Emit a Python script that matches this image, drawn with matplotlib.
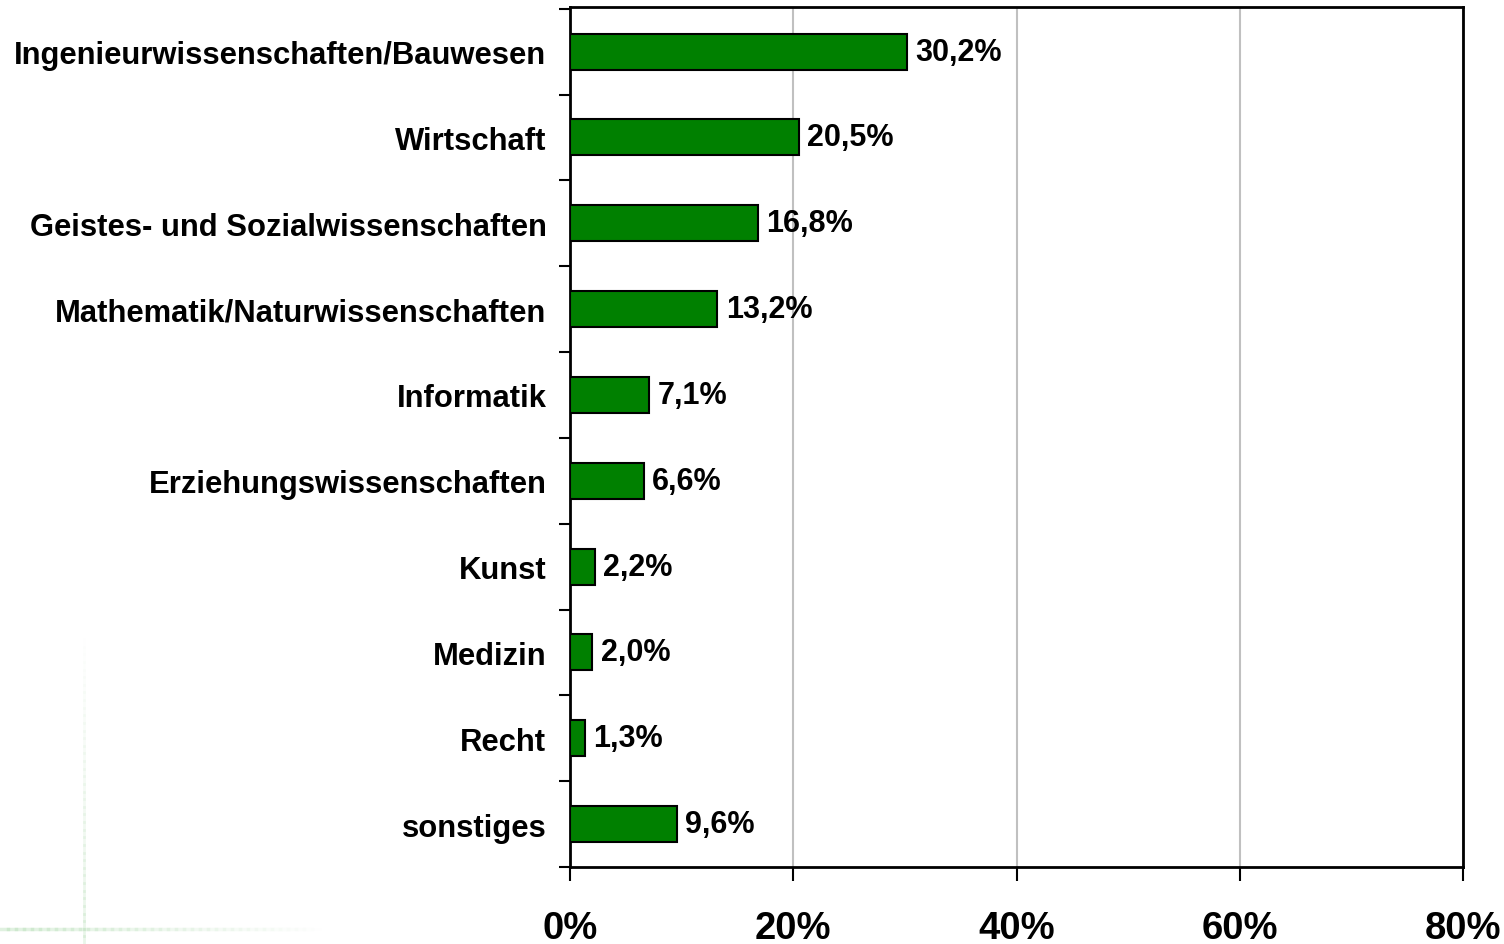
import matplotlib
matplotlib.use("Agg")
import matplotlib.pyplot as plt
from matplotlib.lines import Line2D
import numpy as np

categories = ["Ingenieurwissenschaften/Bauwesen", "Wirtschaft",
              "Geistes- und Sozialwissenschaften", "Mathematik/Naturwissenschaften",
              "Informatik", "Erziehungswissenschaften", "Kunst", "Medizin",
              "Recht", "sonstiges"]
values = [30.2, 20.5, 16.8, 13.2, 7.1, 6.6, 2.2, 2.0, 1.3, 9.6]
value_labels = ["30,2%", "20,5%", "16,8%", "13,2%", "7,1%", "6,6%",
                "2,2%", "2,0%", "1,3%", "9,6%"]
xticks = [0, 20, 40, 60, 80]
xtick_labels = ["0%", "20%", "40%", "60%", "80%"]

plt.rcParams['font.family'] = ['Liberation Sans', 'DejaVu Sans']

fig = plt.figure(figsize=(15.04, 9.45), dpi=100)
ax = fig.add_axes([570/1504, 1-868/945, (1463-570)/1504, (868-8)/945])

n = len(categories)
y = np.arange(n)
ax.barh(y, values, height=0.42, color="#008000", edgecolor="black", linewidth=1.5, zorder=3)
ax.set_ylim(n - 0.5 - 0.02, -0.5 - 0.02)
ax.set_xlim(0, 80)

for yi, v, lab in zip(y, values, value_labels):
    ax.annotate(lab, (v, yi), xytext=(6, 0), textcoords="offset points",
                va="center", ha="left", fontsize=22, fontweight="bold", zorder=4)

ax.set_yticks(y)
ax.set_yticklabels(categories, fontsize=22.3, fontweight="bold")
ax.set_yticks(np.arange(n + 1) - 0.5, minor=True)
ax.tick_params(axis="y", which="major", length=0, pad=17)
ax.tick_params(axis="y", which="minor", length=8, width=1.5, direction="out")

ax.set_xticks(xticks)
ax.set_xticklabels(xtick_labels, fontsize=27.5, fontweight="bold")
ax.tick_params(axis="x", length=10, width=1.5, direction="out", pad=21)

ax.grid(axis="x", color="#c0c0c0", linewidth=1.5, zorder=0)
for s in ax.spines.values():
    s.set_linewidth(2)
    s.set_color("black")

# faint decorative lines in the lower left
for i in range(40):
    x0 = i / 40 * 320 / 1504
    x1 = (i + 1) / 40 * 320 / 1504
    a = 0.35 * (1 - i / 40)
    fig.add_artist(Line2D([x0, x1], [1 - 930/945, 1 - 930/945], color="#a8d8a8", alpha=a, lw=2.5))
for i in range(40):
    y0 = (945 - 640) / 945 * i / 40
    y1 = (945 - 640) / 945 * (i + 1) / 40
    a = 0.25 * (1 - i / 40)
    fig.add_artist(Line2D([84/1504, 84/1504], [y0, y1], color="#a8d8a8", alpha=a, lw=2))

fig.savefig("out.png", dpi=100)
